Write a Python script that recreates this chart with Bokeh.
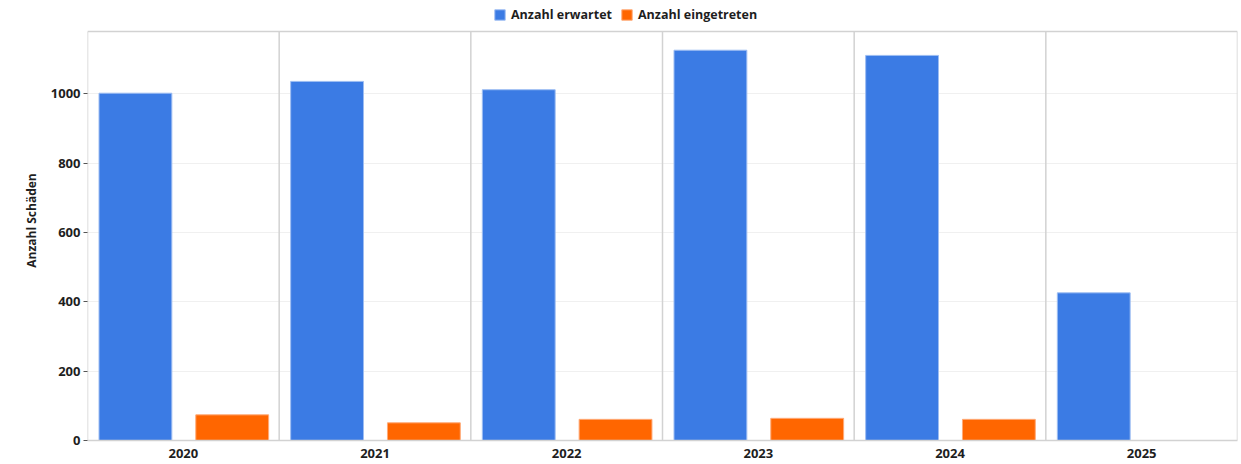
from bokeh.plotting import figure
from bokeh.models import (ColumnDataSource, FactorRange, Range1d, FixedTicker,
                          Legend, LegendItem, Span)
from bokeh.transform import dodge
from bokeh.embed import file_html
from bokeh.resources import INLINE

# ---- data ----
years = ["2020", "2021", "2022", "2023", "2024", "2025"]
erwartet = [1002, 1036, 1012, 1126, 1111, 426]
eingetreten = [74, 51, 61, 64, 61, 0]
series_names = ["Anzahl erwartet", "Anzahl eingetreten"]
series_colors = ["#3b7be4", "#ff6600"]
series_edges = ["#9dbdf2", "#ffaa77"]
y_ticks = [0, 200, 400, 600, 800, 1000]
y_max = 1180
y_title = "Anzahl Schäden"

FONT = "Open Sans"
TEXT = "#1e1e1e"
SEP = "#d2d2d2"

W, H = 1241, 464
LEFT, RIGHT, BOTTOM = 87, 4, 24
LEGEND_H = 31                      # header strip that holds the legend
plot_h = H - BOTTOM - LEGEND_H     # height of the value area in px
y_end = y_max * (plot_h + LEGEND_H) / plot_h

src = ColumnDataSource(dict(year=years, erw=erwartet, ein=eingetreten,
                            y0=[0] * len(years), y1=[y_max] * len(years)))

p = figure(width=W, height=H,
           x_range=FactorRange(*years), y_range=Range1d(0, y_end),
           output_backend="svg", toolbar_location=None,
           min_border_left=LEFT, min_border_right=RIGHT,
           min_border_top=0, min_border_bottom=BOTTOM)

p.background_fill_color = "white"
p.border_fill_color = "white"
p.outline_line_color = None

# light horizontal grid
p.xgrid.grid_line_color = None
p.ygrid.ticker = FixedTicker(ticks=y_ticks)
p.ygrid.grid_line_color = "#f0f0f0"

# category separators (left edge of every category, plus right edge of last)
p.segment(x0=dodge("year", -0.5, range=p.x_range), y0="y0",
          x1=dodge("year", -0.5, range=p.x_range), y1="y1",
          source=src, line_color=SEP, line_width=1.5)
last = ColumnDataSource(dict(year=years[-1:], y0=[0], y1=[y_max]))
p.segment(x0=dodge("year", 0.5, range=p.x_range), y0="y0",
          x1=dodge("year", 0.5, range=p.x_range), y1="y1",
          source=last, line_color=SEP, line_width=1.5)
p.add_layout(Span(location=y_max, dimension="width", line_color=SEP,
                  line_width=1.5))

r1 = p.vbar(x=dodge("year", -0.25, range=p.x_range), top="erw", width=0.38,
            source=src, fill_color=series_colors[0], line_color=series_edges[0],
            line_width=1)
r2 = p.vbar(x=dodge("year", 0.255, range=p.x_range), top="ein", width=0.38,
            source=src, fill_color=series_colors[1], line_color=series_edges[1],
            line_width=1)

# y axis
p.yaxis.ticker = FixedTicker(ticks=y_ticks)
p.yaxis.axis_label = y_title
p.yaxis.axis_label_text_font = FONT
p.yaxis.axis_label_text_font_style = "bold"
p.yaxis.axis_label_text_font_size = "12px"
p.yaxis.axis_label_text_color = TEXT
p.yaxis.axis_label_standoff = 8
p.yaxis.major_label_text_font = FONT
p.yaxis.major_label_text_font_style = "bold"
p.yaxis.major_label_text_font_size = "13px"
p.yaxis.major_label_text_color = TEXT
p.yaxis.major_label_standoff = 3
p.yaxis.major_tick_out = 4
p.yaxis.major_tick_in = 0
p.yaxis.major_tick_line_color = "#555555"
p.yaxis.minor_tick_line_color = None
p.yaxis.axis_line_color = None

# x axis
p.xaxis.major_label_text_font = FONT
p.xaxis.major_label_text_font_style = "bold"
p.xaxis.major_label_text_font_size = "13px"
p.xaxis.major_label_text_color = TEXT
p.xaxis.major_label_standoff = 2
p.xaxis.major_tick_line_color = None
p.xaxis.minor_tick_line_color = None
p.xaxis.axis_line_color = SEP
p.xaxis.axis_line_width = 1.5

legend = Legend(items=[LegendItem(label=series_names[0], renderers=[r1]),
                       LegendItem(label=series_names[1], renderers=[r2])],
                orientation="horizontal",
                location=(406, plot_h + 8),
                border_line_color=None, background_fill_alpha=0,
                label_text_font=FONT, label_text_font_style="bold",
                label_text_font_size="12.5px", label_text_color=TEXT,
                glyph_width=13, glyph_height=13, label_height=15,
                label_standoff=5, spacing=8, padding=0, margin=0)
p.add_layout(legend)

open("out.html", "w").write(file_html(p, INLINE))
